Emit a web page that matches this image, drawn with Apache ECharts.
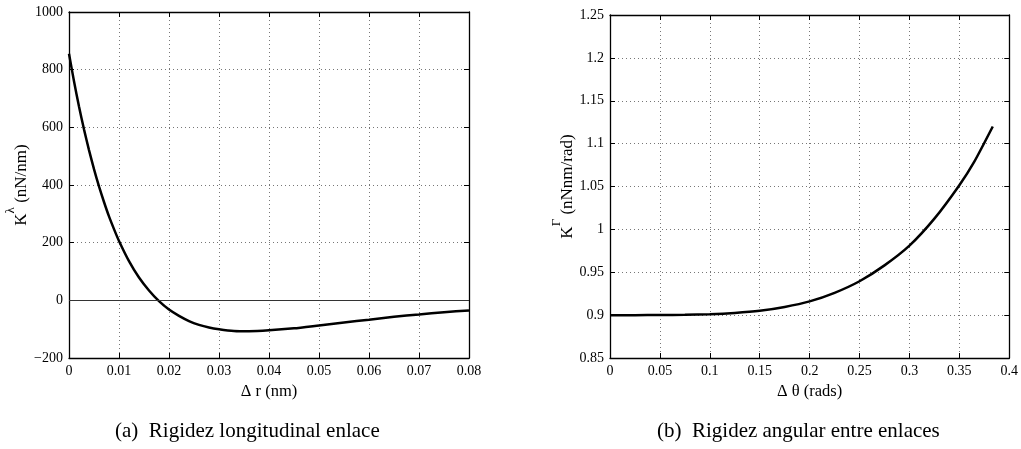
<!DOCTYPE html>
<html><head><meta charset="utf-8">
<script src="https://cdn.jsdelivr.net/npm/echarts@6/dist/echarts.min.js"></script>
<style>html,body{margin:0;padding:0;background:#fff}#c{width:1021px;height:449px}</style>
</head><body><div id="c"></div>
<script>
// Left panel: longitudinal stiffness
const dr = [0,0.001,0.002,0.003,0.004,0.005,0.006,0.007,0.008,0.009,0.01,0.012,0.014,0.016,0.018,0.02,0.022,0.024,0.026,0.028,0.03,0.033,0.036,0.04,0.045,0.05,0.055,0.06,0.065,0.07,0.075,0.08];
const kLambda = [855,760,672,593,521,455,395,341,291,247,206,136,79,34,-3,-32,-54,-72,-85,-94,-100,-106,-107,-104,-97,-87,-77,-67,-57,-49,-41,-35];
// Right panel: angular stiffness
const dTheta = [0,0.025,0.05,0.075,0.1,0.125,0.15,0.175,0.2,0.225,0.25,0.275,0.3,0.325,0.35,0.365,0.3835];
const kGamma = [0.9,0.9,0.9001,0.9003,0.901,0.9025,0.905,0.9095,0.916,0.926,0.9395,0.958,0.981,1.0125,1.0515,1.079,1.12];
const captions = ['(a)  Rigidez longitudinal enlace', '(b)  Rigidez angular entre enlaces'];

const FF = 'Liberation Serif';
const fmt = v => { const s = String(parseFloat(v.toFixed(4))); return s.replace('-', '\u2212'); };
const gridLine = {show:true, lineStyle:{color:'#777', type:[1,3], width:1}};
function mainAxis(idx, min, max, interval, name, gap, isY) {
  return {
    type:'value', gridIndex:idx, min, max, interval,
    name, nameLocation:'middle', nameGap:gap,
    nameTextStyle: isY ? {fontFamily:FF, fontSize:17, color:'#000', rich:{
        k:{fontFamily:FF, fontSize:17, color:'#000', lineHeight:26, verticalAlign:'bottom'},
        s:{fontFamily:FF, fontSize:13, color:'#000', lineHeight:17, verticalAlign:'top'}}}
      : {fontFamily:FF, fontSize:16.5, color:'#000'},
    axisLine:{show:true, onZero:false, lineStyle:{color:'#000', width:1.3}},
    axisTick:{show:true, inside:true, length:5, lineStyle:{color:'#000'}},
    axisLabel:{fontFamily:FF, fontSize:14, color:'#000', margin:6, formatter:fmt},
    splitLine:gridLine
  };
}
function boxAxis(idx, min, max, interval, pos) {
  return {
    type:'value', gridIndex:idx, min, max, interval, position:pos,
    axisLine:{show:true, onZero:false, lineStyle:{color:'#000', width:1.3}},
    axisTick:{show:true, inside:true, length:5, lineStyle:{color:'#000'}},
    axisLabel:{show:false}, splitLine:{show:false}
  };
}
const chart = echarts.init(document.getElementById('c'));
chart.setOption({
  animation:false,
  backgroundColor:'#fff',
  title: [
    {text:captions[0], left:115, top:421, padding:0, textStyle:{fontFamily:FF, fontSize:21, fontWeight:'normal', color:'#000'}},
    {text:captions[1], left:657, top:421, padding:0, textStyle:{fontFamily:FF, fontSize:21, fontWeight:'normal', color:'#000'}}
  ],
  grid: [
    {left:69, top:12, width:400, height:346},
    {left:610, top:15, width:400, height:343}
  ],
  xAxis: [
    mainAxis(0, 0, 0.08, 0.01, '\u0394 r (nm)', 22, false),
    boxAxis(0, 0, 0.08, 0.01, 'top'),
    mainAxis(1, 0, 0.4, 0.05, '\u0394 \u03b8 (rads)', 22, false),
    boxAxis(1, 0, 0.4, 0.05, 'top')
  ],
  yAxis: [
    mainAxis(0, -200, 1000, 200, '{k|K}{s|\u03bb}{k| (nN/nm)}', 38, true),
    boxAxis(0, -200, 1000, 200, 'right'),
    mainAxis(1, 0.85, 1.25, 0.05, '{k|K}{s|\u0393}{k| (nNnm/rad)}', 34, true),
    boxAxis(1, 0.85, 1.25, 0.05, 'right')
  ],
  series: [
    {type:'line', xAxisIndex:0, yAxisIndex:0, data:dr.map((x,i)=>[x,kLambda[i]]),
     showSymbol:false, smooth:0.2, lineStyle:{color:'#000', width:2.5},
     markLine:{silent:true, symbol:['none','none'], label:{show:false},
       lineStyle:{color:'#333', width:1, type:'solid'}, data:[{yAxis:0}]}},
    {type:'line', xAxisIndex:2, yAxisIndex:2, data:dTheta.map((x,i)=>[x,kGamma[i]]),
     showSymbol:false, smooth:0.2, lineStyle:{color:'#000', width:2.5}}
  ]
});
</script></body></html>
